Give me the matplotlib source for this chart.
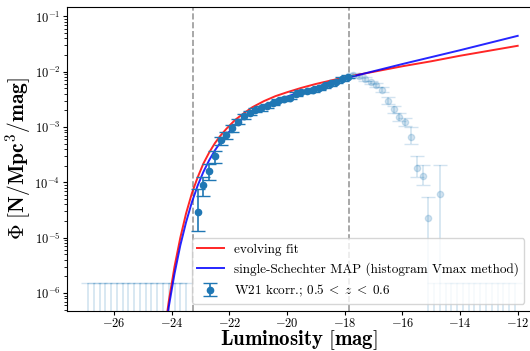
import numpy as np
import matplotlib
matplotlib.use('Agg')
from matplotlib import pyplot as plt

plt.rcParams['font.family'] = 'serif'
plt.rcParams['font.serif'] = ['cmr10', 'DejaVu Serif']
plt.rcParams['mathtext.fontset'] = 'cm'
plt.rcParams['axes.formatter.use_mathtext'] = True

# model curves (magnitude, log10 phi)
curve_mag = [-24.3, -24.1, -23.9, -23.7, -23.5, -23.3, -23.1, -22.9, -22.7, -22.5,
             -22.3, -22.1, -21.8, -21.5, -21.2, -20.8, -20.4, -20.0, -19.5, -19.0,
             -18.5, -18.0, -17.0, -16.0, -15.0, -14.0, -13.0, -12.0]
blue_logphi = [-6.97, -6.25, -5.65, -5.14, -4.72, -4.36, -4.06, -3.81, -3.60, -3.42,
               -3.27, -3.14, -2.96, -2.83, -2.73, -2.62, -2.53, -2.45, -2.36, -2.28,
               -2.20, -2.12, -1.99, -1.86, -1.735, -1.61, -1.48, -1.35]
red_logphi = [-6.90, -6.15, -5.52, -5.00, -4.56, -4.20, -3.91, -3.66, -3.46, -3.29,
              -3.15, -3.03, -2.87, -2.75, -2.64, -2.53, -2.44, -2.37, -2.29, -2.22,
              -2.16, -2.10, -2.00, -1.90, -1.81, -1.71, -1.62, -1.53]

# W21 points inside the fitted range (log10 phi, lower / upper bound)
mag_in = [-23.1, -22.9, -22.7, -22.5, -22.3, -22.1, -21.9, -21.7, -21.5, -21.3,
          -21.1, -20.9, -20.7, -20.5, -20.3, -20.1, -19.9, -19.7, -19.5, -19.3,
          -19.1, -18.9, -18.7, -18.5, -18.3, -18.1, -17.9]
logphi_in = [-4.53, -4.05, -3.79, -3.53, -3.24, -3.15, -3.02, -2.90, -2.80, -2.74,
             -2.69, -2.66, -2.62, -2.57, -2.52, -2.49, -2.47, -2.40, -2.36, -2.35,
             -2.33, -2.29, -2.26, -2.22, -2.18, -2.13, -2.09]
lo_in = [-4.88, -4.24, -3.95, -3.65, -3.32, -3.22, -3.08, -2.95, -2.85, -2.78,
         -2.73, -2.70, -2.66, -2.60, -2.55, -2.52, -2.50, -2.43, -2.39, -2.38,
         -2.36, -2.32, -2.29, -2.25, -2.21, -2.16, -2.12]
hi_in = [-4.11, -3.90, -3.66, -3.43, -3.17, -3.09, -2.97, -2.85, -2.76, -2.70,
         -2.65, -2.62, -2.58, -2.54, -2.49, -2.46, -2.44, -2.37, -2.33, -2.32,
         -2.30, -2.26, -2.23, -2.19, -2.15, -2.10, -2.06]

# W21 points outside the fitted range (faded)
mag_out = [-17.7, -17.5, -17.3, -17.1, -16.9, -16.7, -16.5, -16.3, -16.1, -15.9,
           -15.7, -15.5, -15.3, -15.1, -14.7]
logphi_out = [-2.05, -2.08, -2.13, -2.19, -2.24, -2.32, -2.52, -2.68, -2.81, -2.90,
              -3.18, -3.74, -3.89, -4.65, -4.21]
lo_out = [-2.08, -2.11, -2.16, -2.22, -2.28, -2.37, -2.58, -2.75, -2.89, -2.98,
          -3.30, -3.91, -4.05, None, None]
hi_out = [-2.02, -2.05, -2.10, -2.16, -2.20, -2.27, -2.46, -2.62, -2.74, -2.83,
          -3.00, -3.52, -3.69, -4.27, -3.69]

# empty bins: only an upper bound
mag_empty = [-26.9, -26.7, -26.5, -26.3, -26.1, -25.9, -25.7, -25.5, -25.3, -25.1,
             -24.9, -24.7, -24.5, -24.3, -24.1, -23.9, -23.7, -23.5,
             -14.9, -14.5, -14.3, -14.1, -13.9, -13.7, -13.5, -13.3, -13.1,
             -12.9, -12.7, -12.5, -12.3, -12.1]
empty_upper = 1.55e-6

mag_cuts = [-23.25, -17.84]

def bounds(logphi, lo, hi):
    phi = 10**np.array(logphi, dtype=float)
    low = np.array([phi[i] if l is None else phi[i] - 10**l for i, l in enumerate(lo)])
    up = 10**np.array(hi, dtype=float) - phi
    return phi, np.vstack([low, up])

fig = plt.figure(figsize=(5.30, 3.51), dpi=100)
ax = fig.add_axes([0.1258, 0.1148, 0.876, 0.866])

for m in mag_cuts:
    ax.axvline(m, color='gray', ls='--', lw=1.2, alpha=0.8, zorder=1)

phi_e = np.zeros(len(mag_empty))
ax.errorbar(mag_empty, phi_e, yerr=[phi_e, np.full(len(mag_empty), empty_upper)],
            fmt='o', color='C0', alpha=0.2, ms=4, capsize=5, lw=1.2)
phi_o, err_o = bounds(logphi_out, lo_out, hi_out)
ax.errorbar(mag_out, phi_o, yerr=err_o, fmt='o', color='C0', alpha=0.2,
            ms=4.5, capsize=5, lw=1.2)

ax.plot(curve_mag, 10**np.array(red_logphi), color='red', lw=1.4, alpha=0.85,
        label='evolving fit', zorder=3)
ax.plot(curve_mag, 10**np.array(blue_logphi), color='blue', lw=1.4, alpha=0.85,
        label='single-Schechter MAP (histogram Vmax method)', zorder=4)

phi_i, err_i = bounds(logphi_in, lo_in, hi_in)
ax.errorbar(mag_in, phi_i, yerr=err_i, fmt='o', color='C0', ms=4.5, capsize=5,
            lw=1.2, label=r'W21 kcorr.; $0.5\;<\;z\;<\;0.6$', zorder=5)

ax.set_yscale('log')
ax.set_xlim(-27.64, -11.54)
ax.set_ylim(4.8e-7, 0.15)
ax.set_xticks([-26, -24, -22, -20, -18, -16, -14, -12])
ax.tick_params(labelsize=9, pad=1.5, length=3)

ax.set_xlabel(r'$\mathbf{Luminosity\ [mag]}$', fontsize=15, labelpad=-1)
ax.set_ylabel(r'$\mathbf{\Phi\ [N/Mpc^3/mag]}$', fontsize=15.5, labelpad=1)

leg = ax.legend(loc='lower right', fontsize=9.5)

fig.savefig('out.png', dpi=100)
